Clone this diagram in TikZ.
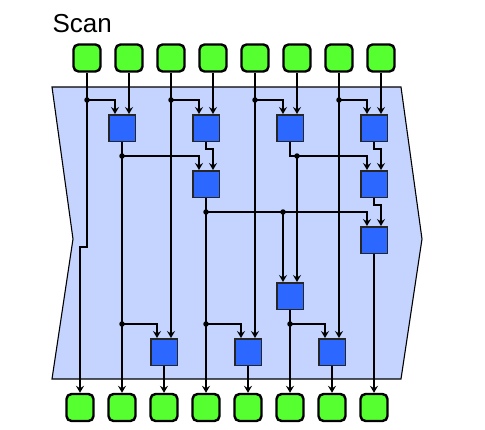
\documentclass[tikz,border=0pt]{standalone}
\usepackage{fontspec}
\setmainfont{Liberation Sans}
\usetikzlibrary{arrows.meta,calc}
\definecolor{gbox}{RGB}{85,255,48}
\definecolor{bbox}{RGB}{44,104,255}
\definecolor{bgblue}{RGB}{196,212,255}
\tikzset{
  iobox/.style={draw=black,fill=gbox,line width=2.4pt,rounded corners=5pt,minimum size=27pt,inner sep=0pt},
  opbox/.style={draw=black!85,fill=bbox,line width=1.5pt,minimum size=26.5pt,inner sep=0pt},
  wire/.style={line width=1.3pt},
  arr/.style={wire,-{Stealth[length=7pt,width=8pt,inset=2.5pt]}},
  jdot/.style={circle,fill=black,inner sep=0pt,minimum size=5.5pt}
}
\begin{document}
\begin{tikzpicture}[x=1pt,y=-1pt]
\useasboundingbox (0,0) rectangle (485,429);
% background
\draw[fill=bgblue,line width=1.1pt,line join=miter] (52,87) -- (401,87) -- (422,239) -- (401,379) -- (52,379) -- (73,239) -- cycle;
\node[anchor=base west,font=\fontsize{26}{30}\selectfont] (title) at (49,32) {Scan};
% io boxes
\foreach \i in {0,...,7}{
  \node[iobox] (t\i) at (87+42*\i,58) {};
  \node[iobox] (b\i) at (80+42*\i,407.5) {};
}
% operator boxes
\node[opbox] (a1) at (122,128) {};
\node[opbox] (a3) at (206,128) {};
\node[opbox] (a5) at (290,128) {};
\node[opbox] (a7) at (374,128) {};
\node[opbox] (c3) at (206,184) {};
\node[opbox] (c7) at (374,184) {};
\node[opbox] (d7) at (374,240) {};
\node[opbox] (e5) at (290,296) {};
\node[opbox] (f2) at (164,352) {};
\node[opbox] (f4) at (248,352) {};
\node[opbox] (f6) at (332,352) {};
% junction coordinates
\coordinate (p0) at (87,100);
\coordinate (p2) at (171,100);
\coordinate (p4) at (255,100);
\coordinate (p6) at (339,100);
\coordinate (q1) at (122,156);
\coordinate (q5) at (297,156);
\coordinate (r3) at (206,212);
\coordinate (r5) at (283,212);
\coordinate (s1) at (122,324);
\coordinate (s3) at (206,324);
\coordinate (s5) at (290,324);
% level 1
\draw[arr] (t0.south) -- (t0.south |- 0,247) -| (b0.north);
\draw[arr] (p0) -| ([xshift=-7pt]a1.north);
\draw[arr] (t1.south) -- ([xshift=7pt]a1.north);
\draw[arr] (t2.south) -- ([xshift=7pt]f2.north);
\draw[arr] (p2) -| ([xshift=-7pt]a3.north);
\draw[arr] (t3.south) -- ([xshift=7pt]a3.north);
\draw[arr] (t4.south) -- ([xshift=7pt]f4.north);
\draw[arr] (p4) -| ([xshift=-7pt]a5.north);
\draw[arr] (t5.south) -- ([xshift=7pt]a5.north);
\draw[arr] (t6.south) -- ([xshift=7pt]f6.north);
\draw[arr] (p6) -| ([xshift=-7pt]a7.north);
\draw[arr] (t7.south) -- ([xshift=7pt]a7.north);
% level 2
\draw[arr] (a1.south) -- (b1.north);
\draw[arr] (q1) -| ([xshift=-7pt]c3.north);
\draw[arr] (a3.south) -- ++(0,7) -| ([xshift=7pt]c3.north);
\draw[arr] (a5.south) -- (q5 -| a5.south) -| ([xshift=-7pt]c7.north);
\draw[arr] (q5) -- ([xshift=7pt]e5.north);
\draw[arr] (a7.south) -- ++(0,7) -| ([xshift=7pt]c7.north);
% level 3
\draw[arr] (c3.south) -- (b3.north);
\draw[arr] (r3) -| ([xshift=-7pt]d7.north);
\draw[arr] (r5) -- ([xshift=-7pt]e5.north);
\draw[arr] (c7.south) -- ++(0,7) -| ([xshift=7pt]d7.north);
\draw[arr] (d7.south) -- (b7.north);
% down-sweep
\draw[arr] (s1) -| ([xshift=-7pt]f2.north);
\draw[arr] (s3) -| ([xshift=-7pt]f4.north);
\draw[arr] (e5.south) -- (b5.north);
\draw[arr] (s5) -| ([xshift=-7pt]f6.north);
\draw[arr] (f2.south) -- (b2.north);
\draw[arr] (f4.south) -- (b4.north);
\draw[arr] (f6.south) -- (b6.north);
% junction dots
\foreach \c in {p0,p2,p4,p6,q1,q5,r3,r5,s1,s3,s5}{
  \node[jdot] at (\c) {};
}
\end{tikzpicture}
\end{document}
